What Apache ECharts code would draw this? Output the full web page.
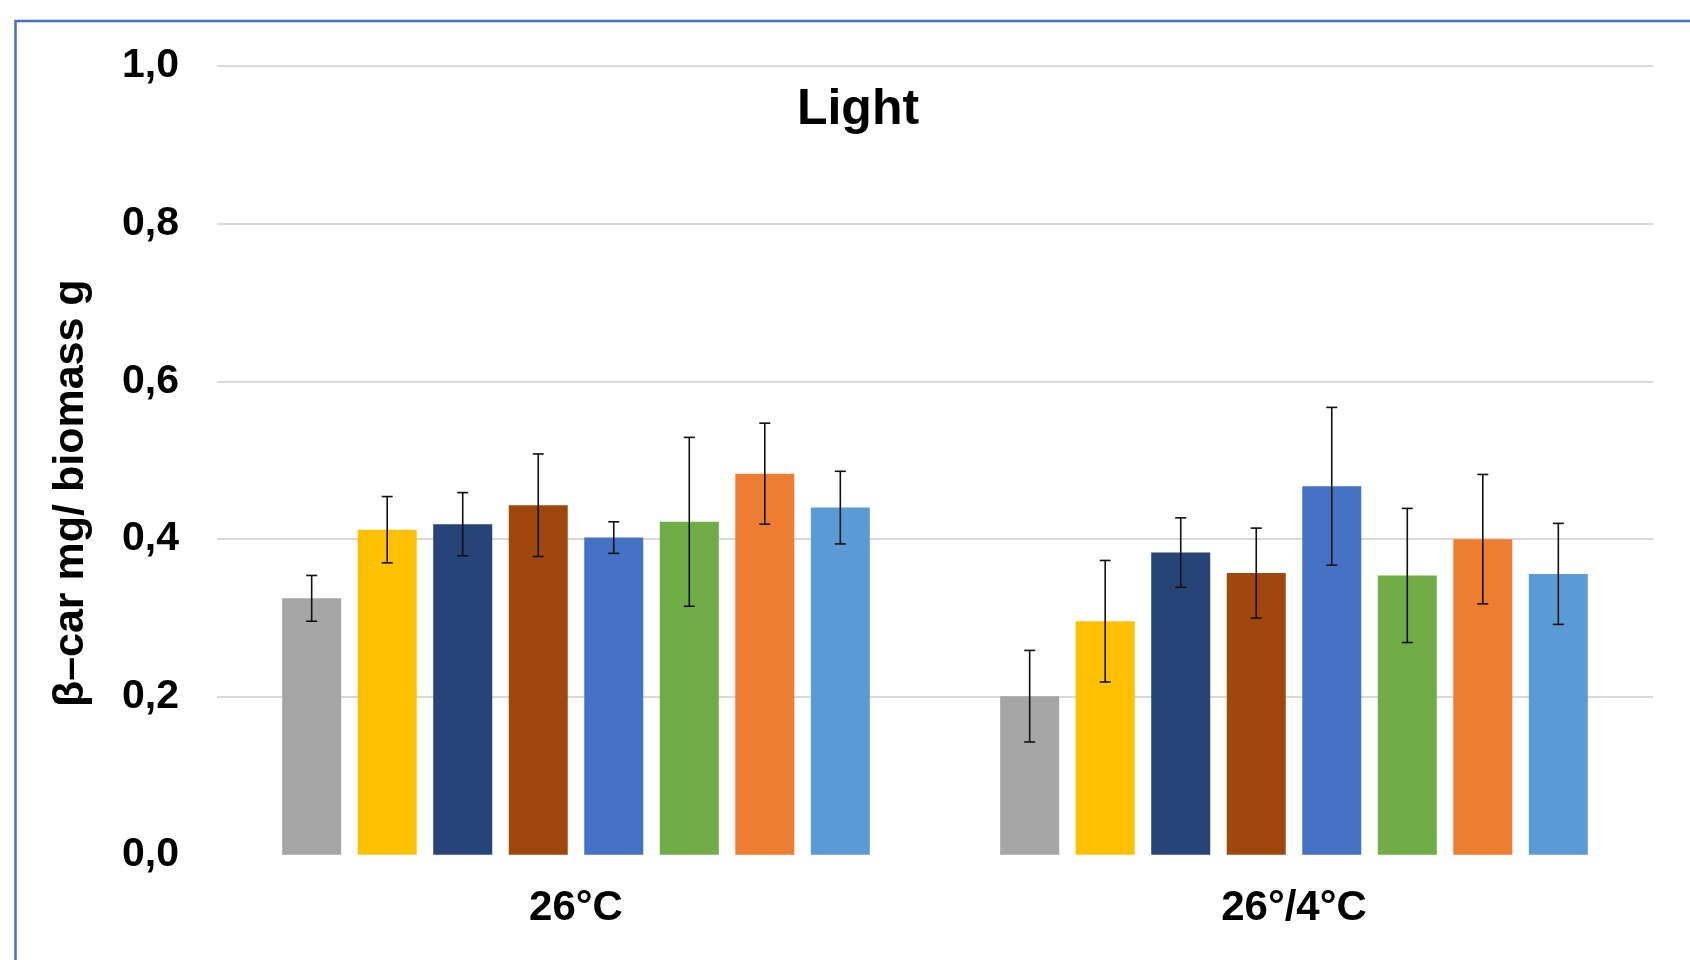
<!DOCTYPE html>
<html>
<head>
<meta charset="utf-8">
<script src="https://cdn.jsdelivr.net/npm/echarts@6/dist/echarts.min.js"></script>
<style>
html,body{margin:0;padding:0;background:#fff;}
#chart{width:1690px;height:960px;}
</style>
</head>
<body>
<div id="chart"></div>
<script>
const categories = ['26°C', '26°/4°C'];
const seriesNames = ['Series 1', 'Series 2', 'Series 3', 'Series 4', 'Series 5', 'Series 6', 'Series 7', 'Series 8'];
const seriesColors = ['#A5A5A5', '#FFC000', '#264478', '#9E480E', '#4472C4', '#70AD47', '#ED7D31', '#5B9BD5'];
// values per series: [26°C, 26°/4°C]
const s1 = [0.325, 0.201];
const s2 = [0.412, 0.296];
const s3 = [0.419, 0.383];
const s4 = [0.443, 0.357];
const s5 = [0.402, 0.467];
const s6 = [0.422, 0.354];
const s7 = [0.483, 0.400];
const s8 = [0.440, 0.356];
// symmetric error (±) per series
const e1 = [0.029, 0.058];
const e2 = [0.042, 0.077];
const e3 = [0.040, 0.044];
const e4 = [0.065, 0.057];
const e5 = [0.020, 0.100];
const e6 = [0.107, 0.085];
const e7 = [0.064, 0.082];
const e8 = [0.046, 0.064];
const yTicks = [0, 0.2, 0.4, 0.6, 0.8, 1.0];
const titleText = 'Light';
const yName = 'β–car mg/ biomass g';

const values = [s1, s2, s3, s4, s5, s6, s7, s8];
const errors = [e1, e2, e3, e4, e5, e6, e7, e8];

const FONT = "'Liberation Sans', Arial, sans-serif";
const BAR_W = 59;
const BAR_GAP_RATIO = 0.28;
const PITCH = BAR_W * (1 + BAR_GAP_RATIO);
const N = values.length;

const series = [];
values.forEach((v, i) => {
  series.push({
    name: seriesNames[i],
    type: 'bar',
    data: v,
    barWidth: BAR_W,
    barGap: (BAR_GAP_RATIO * 100) + '%',
    itemStyle: { color: seriesColors[i] },
    z: 2
  });
});

const errData = [];
values.forEach((v, i) => {
  v.forEach((val, c) => {
    errData.push([c, val, errors[i][c], i]);
  });
});

series.push({
  type: 'custom',
  name: 'error',
  data: errData,
  z: 10,
  silent: true,
  encode: { x: 0, y: 1 },
  renderItem: function (params, api) {
    const c = api.value(0);
    const val = api.value(1);
    const err = api.value(2);
    const si = api.value(3);
    const hi = api.coord([c, val + err]);
    const lo = api.coord([c, val - err]);
    const x = hi[0] + (si - (N - 1) / 2) * PITCH;
    const cap = 5.5;
    const style = { stroke: '#111', lineWidth: 1.6, fill: null };
    return {
      type: 'group',
      children: [
        { type: 'line', shape: { x1: x, y1: hi[1], x2: x, y2: lo[1] }, style: style },
        { type: 'line', shape: { x1: x - cap, y1: hi[1], x2: x + cap, y2: hi[1] }, style: style },
        { type: 'line', shape: { x1: x - cap, y1: lo[1], x2: x + cap, y2: lo[1] }, style: style }
      ]
    };
  }
});

const chart = echarts.init(document.getElementById('chart'), null, { renderer: 'canvas' });
chart.setOption({
  animation: false,
  backgroundColor: '#ffffff',
  title: {
    text: titleText,
    left: 853,
    top: 80,
    textAlign: 'center',
    textStyle: { fontFamily: FONT, fontSize: 50, fontWeight: 'bold', color: '#000' }
  },
  graphic: [{
    type: 'rect',
    shape: { x: 15.5, y: 21, width: 1800, height: 1100 },
    style: { fill: null, stroke: '#4472C4', lineWidth: 2.5 },
    silent: true,
    z: 0
  }],
  grid: { left: 217, right: 37, top: 65.7, bottom: 105.2, containLabel: false },
  xAxis: {
    type: 'category',
    data: categories,
    axisLine: { show: false },
    axisTick: { show: false },
    axisLabel: { fontFamily: FONT, fontSize: 42, fontWeight: 'bold', color: '#000', margin: 33 }
  },
  yAxis: {
    type: 'value',
    min: yTicks[0],
    max: yTicks[yTicks.length - 1],
    interval: 0.2,
    name: yName,
    nameLocation: 'middle',
    nameGap: 124,
    nameTextStyle: { fontFamily: FONT, fontSize: 43, fontWeight: 'bold', color: '#000', padding: [0, 66, 0, 0] },
    axisLine: { show: false },
    axisTick: { show: false },
    axisLabel: {
      fontFamily: FONT, fontSize: 41, fontWeight: 'bold', color: '#000', margin: 38,
      padding: [4, 0, 0, 0],
      formatter: function (v) { return v.toFixed(1).replace('.', ','); }
    },
    splitLine: {
      lineStyle: {
        color: ['rgba(0,0,0,0)', '#D9D9D9', '#D9D9D9', '#D9D9D9', '#D9D9D9', '#D9D9D9'],
        width: 2
      }
    }
  },
  series: series
});
</script>
</body>
</html>
